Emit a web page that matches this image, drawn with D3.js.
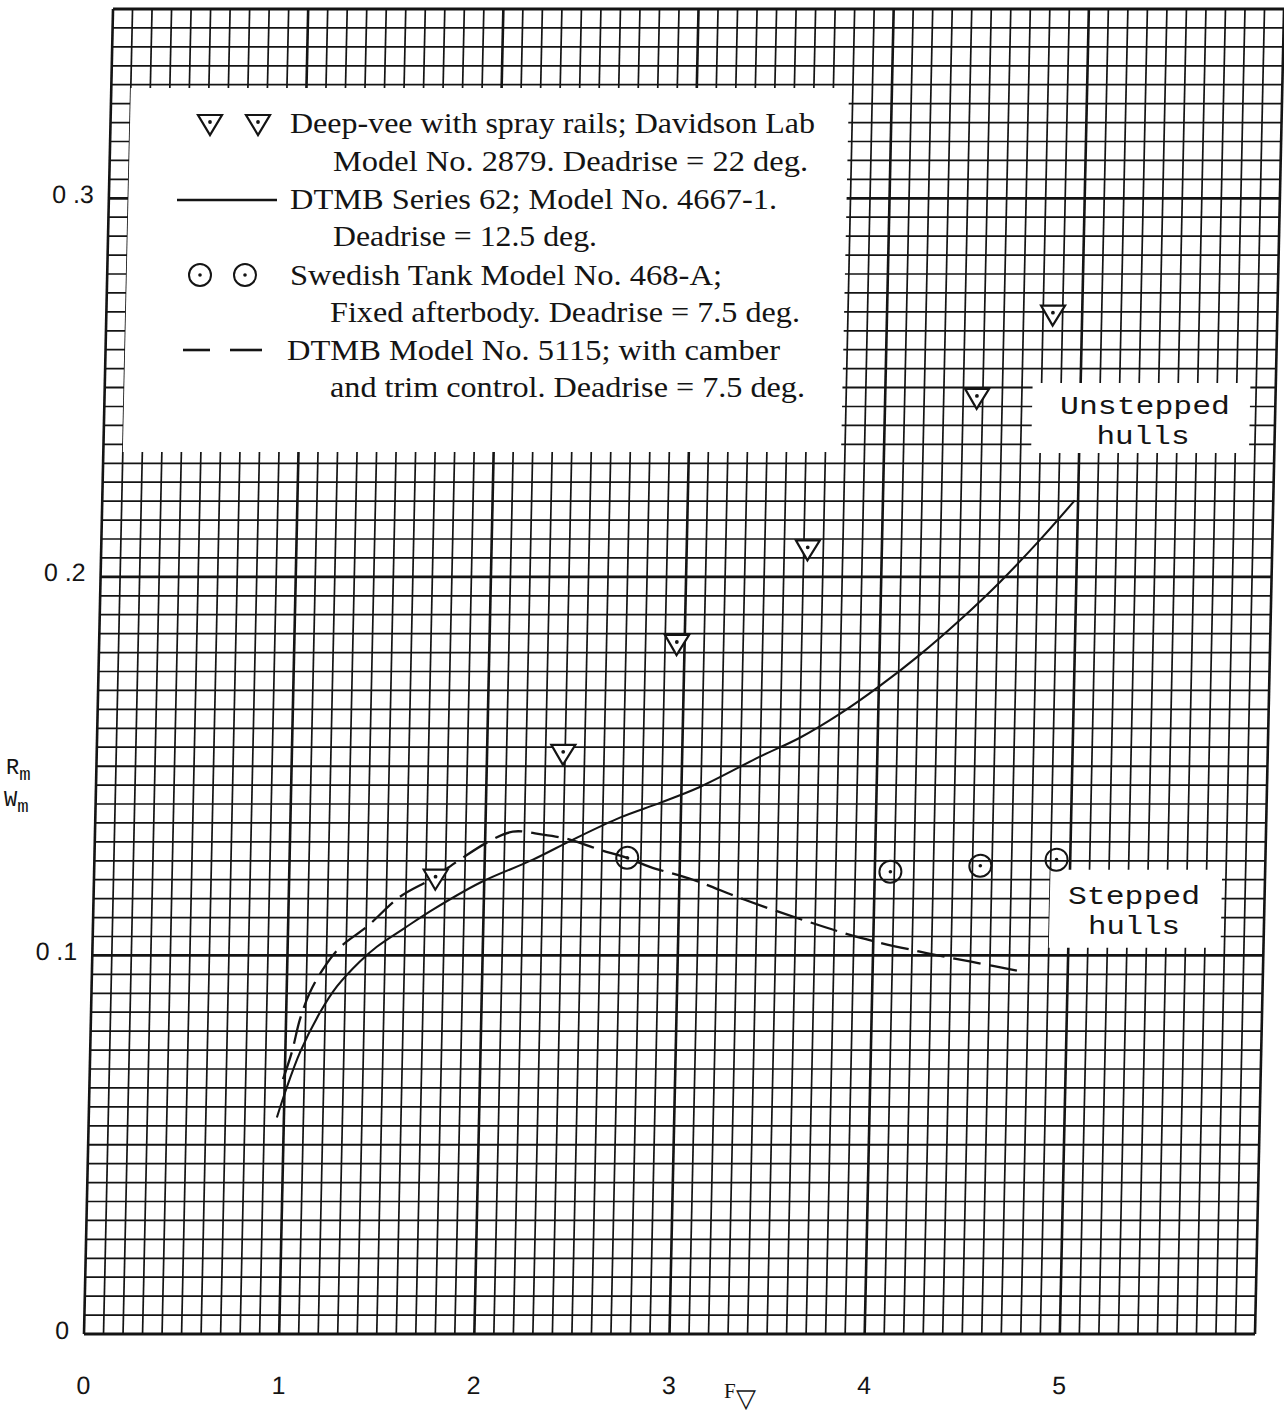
<!DOCTYPE html>
<html>
<head>
<meta charset="utf-8">
<script src="https://cdn.jsdelivr.net/npm/d3@7"></script>
<style>
  html, body { margin: 0; padding: 0; background: #fff; }
  svg { display: block; }
</style>
</head>
<body>
<svg id="chart" width="1284" height="1412"></svg>
<script>
// ---- data: volume Froude number vs. resistance/weight ----
const xTicks = [0, 1, 2, 3, 4, 5];
const xTickLabels = ["0", "1", "2", "3", "4", "5"];
const yTicks = [0, 0.1, 0.2, 0.3];
const yTickLabels = ["0", "0 .1", "0 .2", "0 .3"];

// Deep-vee with spray rails (Davidson Lab model 2879)
const deepVeeF = [1.75, 2.39, 2.96, 3.62, 4.47, 4.85];
const deepVeeR = [0.120, 0.153, 0.182, 0.207, 0.247, 0.269];

// Swedish tank model 468-A
const swedishF = [2.73, 4.08, 4.54, 4.93];
const swedishR = [0.1258, 0.1221, 0.1237, 0.1253];

// DTMB Series 62, model 4667-1 (solid curve)
const series62F = [0.964, 1.003, 1.075, 1.173, 1.257, 1.372, 1.457, 1.599, 1.740, 1.978, 2.247, 2.450,
                   2.688, 2.891, 3.094, 3.398, 3.601, 3.803, 4.005, 4.206, 4.408, 4.608, 4.808, 4.983];
const series62R = [0.0572, 0.0638, 0.0744, 0.0849, 0.0918, 0.0984, 0.1023, 0.1073, 0.1121, 0.1192, 0.1253, 0.1306,
                   0.1364, 0.1403, 0.1445, 0.1525, 0.1575, 0.1638, 0.1712, 0.1794, 0.1886, 0.1986, 0.2097, 0.2202];

// DTMB model 5115 with camber and trim control (dashed curve)
const model5115F = [0.991, 1.034, 1.071, 1.119, 1.183, 1.268, 1.404, 1.570, 1.722, 1.873, 2.009, 2.141,
                    2.295, 2.434, 2.589, 2.728, 2.847, 3.069, 3.337, 3.647, 3.931, 4.240, 4.497, 4.770];
const model5115R = [0.0673, 0.0746, 0.0831, 0.0902, 0.0963, 0.1021, 0.1076, 0.1155, 0.1200, 0.1253, 0.1298, 0.1327,
                    0.1319, 0.1306, 0.1279, 0.1258, 0.1234, 0.1200, 0.1147, 0.1092, 0.1047, 0.1010, 0.0984, 0.0957];

// legend entries
const legendLines = [
  "Deep-vee with spray rails; Davidson Lab",
  "Model No. 2879. Deadrise = 22 deg.",
  "DTMB Series 62; Model No. 4667-1.",
  "Deadrise = 12.5 deg.",
  "Swedish Tank Model No. 468-A;",
  "Fixed afterbody. Deadrise = 7.5 deg.",
  "DTMB Model No. 5115; with camber",
  "and trim control. Deadrise = 7.5 deg."
];

// ---- layout ----
const svg = d3.select("#chart");
const ink = "#141414";
const x = d3.scaleLinear().domain([0, 6]).range([84, 1255]);
const y = d3.scaleLinear().domain([0, 0.35]).range([1334, 9]);

// the graph paper leans slightly: vertical rules drift right toward the top
const lean = 0.0219;
const plot = svg.append("g")
  .attr("transform", `translate(${lean * y(0)},0) skewX(${-Math.atan(lean) * 180 / Math.PI})`);

// ---- grid paper ----
const xGrid = d3.range(0, 61).map(i => i / 10);
const yGrid = d3.range(0, 71).map(i => i * 0.005);

plot.append("g").selectAll("line").data(yGrid).join("line")
  .attr("x1", x(0)).attr("x2", x(6))
  .attr("y1", d => y(d)).attr("y2", d => y(d))
  .attr("stroke", ink)
  .attr("stroke-width", (d, i) => (i % 20 === 0 || i === 70) ? 2.8 : (i % 10 === 0 ? 2.0 : 1.7));

plot.append("g").selectAll("line").data(xGrid).join("line")
  .attr("x1", d => x(d)).attr("x2", d => x(d))
  .attr("y1", y(0)).attr("y2", y(0.35))
  .attr("stroke", ink)
  .attr("stroke-width", (d, i) => i % 10 === 0 ? 2.6 : 1.7);

// pasted-on white label areas
const panels = [
  { f0: 0.1, f1: 3.78, r0: 0.233, r1: 0.3291 },
  { f0: 4.754, f1: 5.87, r0: 0.2327, r1: 0.2512 },
  { f0: 4.90, f1: 5.78, r0: 0.102, r1: 0.1226 }
];
plot.append("g").selectAll("rect").data(panels).join("rect")
  .attr("x", d => x(d.f0)).attr("width", d => x(d.f1) - x(d.f0))
  .attr("y", d => y(d.r1)).attr("height", d => y(d.r0) - y(d.r1))
  .attr("fill", "#fff");

// ---- axes (labels only) ----
const axisFont = "'Liberation Sans', Arial, sans-serif";
const xAxis = plot.append("g").attr("transform", `translate(0,${y(0)})`)
  .call(d3.axisBottom(x).tickValues(xTicks).tickFormat((d, i) => xTickLabels[i]).tickSize(0).tickPadding(42));
const yAxis = plot.append("g").attr("transform", `translate(${x(0)},0)`)
  .call(d3.axisLeft(y).tickValues(yTicks).tickFormat((d, i) => yTickLabels[i]).tickSize(0).tickPadding(15));
[xAxis, yAxis].forEach(a => {
  a.select(".domain").remove();
  a.selectAll("text").attr("font-family", axisFont).attr("font-size", 25).attr("fill", ink);
});
yAxis.selectAll("text").attr("dy", "0.16em");

// ---- curves ----
const curve = d3.line().x(d => x(d[0])).y(d => y(d[1])).curve(d3.curveCatmullRom.alpha(0.5));
plot.append("path").datum(d3.zip(series62F, series62R))
  .attr("d", curve).attr("fill", "none").attr("stroke", ink).attr("stroke-width", 2.1);
plot.append("path").datum(d3.zip(model5115F, model5115R))
  .attr("d", curve).attr("fill", "none").attr("stroke", ink).attr("stroke-width", 2.3)
  .attr("stroke-dasharray", "28,9");

// ---- markers ----
const triPath = "M-12,-10L12,-10L0,10Z";
function triangleMark(g) {
  g.append("path").attr("d", triPath).attr("fill", "#fff").attr("stroke", ink).attr("stroke-width", 2.2).attr("stroke-linejoin", "miter");
  g.append("circle").attr("cx", 0).attr("cy", -3).attr("r", 1.9).attr("fill", ink);
}
function circleMark(g) {
  g.append("circle").attr("r", 11).attr("fill", "none").attr("stroke", ink).attr("stroke-width", 2);
  g.append("circle").attr("r", 1.8).attr("fill", ink);
}
plot.append("g").selectAll("g").data(d3.zip(deepVeeF, deepVeeR)).join("g")
  .attr("transform", d => `translate(${x(d[0])},${y(d[1])})`)
  .each(function () { triangleMark(d3.select(this)); });
plot.append("g").selectAll("g").data(d3.zip(swedishF, swedishR)).join("g")
  .attr("transform", d => `translate(${x(d[0])},${y(d[1])})`)
  .each(function () { circleMark(d3.select(this)); });

// ---- legend ----
const legend = svg.append("g");
const serif = "'Liberation Serif', 'Times New Roman', serif";
const rows = [
  { x: 290, yb: 133, end: 815 },
  { x: 333, yb: 171, end: 808 },
  { x: 290, yb: 209, end: 777 },
  { x: 333, yb: 246, end: 597 },
  { x: 290, yb: 285, end: 722 },
  { x: 330, yb: 322, end: 800 },
  { x: 287, yb: 360, end: 780 },
  { x: 330, yb: 397, end: 805 }
];
legend.selectAll("text").data(legendLines).join("text")
  .attr("x", (d, i) => rows[i].x).attr("y", (d, i) => rows[i].yb)
  .attr("textLength", (d, i) => rows[i].end - rows[i].x).attr("lengthAdjust", "spacingAndGlyphs")
  .attr("font-family", serif).attr("font-size", 30).attr("fill", ink)
  .text(d => d);

[210, 258].forEach(cx => triangleMark(legend.append("g").attr("transform", `translate(${cx},125)`)));
legend.append("line").attr("x1", 177).attr("x2", 277).attr("y1", 200).attr("y2", 200)
  .attr("stroke", ink).attr("stroke-width", 2.4);
[200, 245].forEach(cx => circleMark(legend.append("g").attr("transform", `translate(${cx},275)`)));
[[183, 210], [230, 262]].forEach(s => legend.append("line")
  .attr("x1", s[0]).attr("x2", s[1]).attr("y1", 350).attr("y2", 350)
  .attr("stroke", ink).attr("stroke-width", 2.6));

// ---- region notes ----
const mono = "'Liberation Mono', 'Courier New', monospace";
const notes = [
  { t: "Unstepped", cx: 1145, yb: 414, w: 170 },
  { t: "hulls", cx: 1143, yb: 444, w: 93 },
  { t: "Stepped", cx: 1134, yb: 904, w: 132 },
  { t: "hulls", cx: 1134, yb: 934, w: 92 }
];
svg.append("g").selectAll("text").data(notes).join("text")
  .attr("x", d => d.cx - d.w / 2).attr("y", d => d.yb)
  .attr("textLength", d => d.w).attr("lengthAdjust", "spacingAndGlyphs")
  .attr("font-family", mono).attr("font-size", 25).attr("fill", ink)
  .text(d => d.t);

// ---- axis titles ----
const yTitle = svg.append("g").attr("font-family", mono).attr("fill", ink);
const r = yTitle.append("text").attr("x", 6).attr("y", 774).attr("font-size", 22);
r.append("tspan").text("R");
r.append("tspan").attr("font-size", 19).attr("dy", 6).text("m");
const w = yTitle.append("text").attr("x", 4).attr("y", 806).attr("font-size", 22);
w.append("tspan").text("W");
w.append("tspan").attr("font-size", 19).attr("dy", 6).text("m");

const xTitle = svg.append("text").attr("x", 724).attr("y", 1398).attr("fill", ink)
  .attr("font-family", serif).attr("font-size", 21);
xTitle.append("tspan").text("F");
xTitle.append("tspan").attr("font-size", 26).attr("dy", 9).text("\u25BD");
</script>
</body>
</html>
